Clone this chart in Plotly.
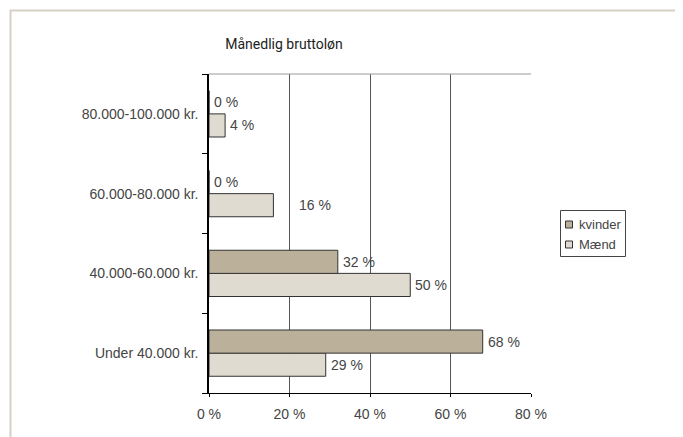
import plotly.graph_objects as go

categories = ["Under 40.000 kr.", "40.000-60.000 kr.", "60.000-80.000 kr.", "80.000-100.000 kr."]
kvinder = [68, 32, 0, 0]
maend = [29, 50, 16, 4]
series_names = ["kvinder", "Mænd"]
x_ticks = [0, 20, 40, 60, 80]
x_tick_labels = ["0 %", "20 %", "40 %", "60 %", "80 %"]

C_K = "#bbb19b"
C_M = "#e0dbd0"
EDGE = "#333333"

# page body has an 8px default margin; figure laid out to fill the rest of the window
W, H = 675, 429
L, R, T, B = 201, 152, 66, 44
PW, PH = W - L - R, H - T - B


def px(fx):
    return (fx - L) / PW


def py(fy):
    return (H - B - fy) / PH


fig = go.Figure()
fig.add_trace(go.Bar(y=categories, x=maend, orientation="h", name=series_names[1], showlegend=False,
                     marker=dict(color=C_M, line=dict(color=EDGE, width=1))))
fig.add_trace(go.Bar(y=categories, x=kvinder, orientation="h", name=series_names[0], showlegend=False,
                     marker=dict(color=C_K, line=dict(color=EDGE, width=1))))

lab_font = dict(family="Liberation Sans", size=14, color="#444")
ann = []
for c, v in zip(categories, kvinder):
    ann.append(dict(x=v, y=c, text=f"{v} %", showarrow=False, xanchor="left", yanchor="middle",
                    xshift=3, yshift=11.5, font=lab_font))
for c, v in zip(categories, maend):
    shift = 24 if v == 16 else 3
    ann.append(dict(x=v, y=c, text=f"{v} %", showarrow=False, xanchor="left", yanchor="middle",
                    xshift=shift, yshift=-11.5, font=lab_font))

# legend box (drawn as a compact Excel-style key)
shapes = [
    dict(type="line", xref="paper", yref="paper", x0=0, x1=1, y0=1, y1=1,
         line=dict(color="#999999", width=1)),
    dict(type="rect", xref="paper", yref="paper",
         x0=px(2.5), x1=px(W + 20), y0=py(2.5), y1=py(H + 20),
         line=dict(color="#d8d0c4", width=2), layer="below"),
    dict(type="rect", xref="paper", yref="paper",
         x0=px(552.5), x1=px(617.5), y0=py(202.5), y1=py(248.5),
         line=dict(color="#444", width=1), fillcolor="white"),
]
for i, (name, col) in enumerate(zip(series_names, [C_K, C_M])):
    cy = 216.5 + 20 * i
    shapes.append(dict(type="rect", xref="paper", yref="paper",
                       x0=px(557.5), x1=px(564.5), y0=py(cy - 3.5), y1=py(cy + 3.5),
                       line=dict(color=EDGE, width=1), fillcolor=col))
    ann.append(dict(x=px(569), y=py(cy), xref="paper", yref="paper", text=name, showarrow=False,
                    xanchor="left", yanchor="middle",
                    font=dict(family="Liberation Sans", size=13, color="#444")))

fig.update_layout(
    width=W, height=H,
    margin=dict(l=L, r=R, t=T, b=B, autoexpand=False),
    paper_bgcolor="white", plot_bgcolor="white",
    barmode="group", bargap=0.42, bargroupgap=0,
    title=dict(text="Månedlig bruttoløn", x=276/W, xanchor="center", xref="container",
               y=1-36/H, yanchor="middle", yref="container",
               font=dict(family="Roboto", size=14, color="#222")),
    font=dict(family="Liberation Sans", size=14, color="#444"),
    showlegend=False,
    xaxis=dict(range=[0, 80], tickvals=x_ticks, ticktext=x_tick_labels,
               showgrid=True, gridcolor="#555555", gridwidth=1,
               showline=True, linecolor="#000", linewidth=1,
               ticks="outside", ticklen=3, tickcolor="#000", zeroline=False,
               ticklabelstandoff=5, fixedrange=True),
    yaxis=dict(categoryorder="array", categoryarray=categories,
               showline=True, linecolor="#000", linewidth=1.5,
               ticks="outside", ticklen=5, tickcolor="#000", tickson="boundaries",
               ticklabelstandoff=6, showgrid=False, zeroline=False),
    annotations=ann,
    shapes=shapes,
)

fig.write_html("out.html")
